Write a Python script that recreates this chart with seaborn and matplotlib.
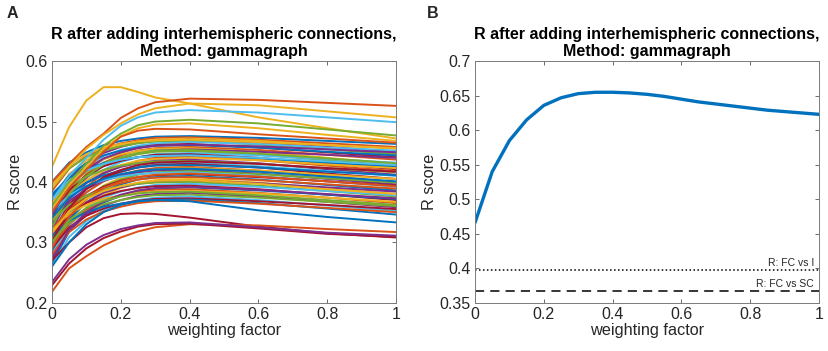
import numpy as np
import pandas as pd
import matplotlib
matplotlib.use("Agg")
import matplotlib.pyplot as plt
import seaborn as sns

# ---------------- data ----------------
W = [0, 0.05, 0.1, 0.15, 0.2, 0.25, 0.3, 0.4, 0.6, 0.8, 1.0]

# Panel A: subject curves (R score vs weighting factor)
bundle = [
    [0.400, 0.432, 0.449, 0.461, 0.468, 0.472, 0.475, 0.476, 0.473, 0.468, 0.463],
    [0.385, 0.422, 0.443, 0.456, 0.464, 0.469, 0.473, 0.474, 0.470, 0.464, 0.458],
    [0.370, 0.413, 0.436, 0.452, 0.461, 0.467, 0.470, 0.472, 0.468, 0.461, 0.455],
    [0.360, 0.406, 0.431, 0.448, 0.458, 0.465, 0.468, 0.470, 0.465, 0.458, 0.450],
    [0.390, 0.423, 0.441, 0.452, 0.459, 0.464, 0.467, 0.468, 0.462, 0.454, 0.446],
    [0.350, 0.399, 0.425, 0.443, 0.453, 0.460, 0.464, 0.466, 0.463, 0.457, 0.452],
    [0.340, 0.392, 0.420, 0.438, 0.449, 0.457, 0.461, 0.463, 0.457, 0.449, 0.441],
    [0.375, 0.411, 0.431, 0.444, 0.452, 0.457, 0.460, 0.461, 0.457, 0.450, 0.444],
    [0.330, 0.384, 0.413, 0.432, 0.444, 0.452, 0.456, 0.458, 0.453, 0.445, 0.437],
    [0.365, 0.403, 0.424, 0.438, 0.446, 0.451, 0.455, 0.456, 0.450, 0.440, 0.430],
    [0.320, 0.376, 0.407, 0.427, 0.439, 0.447, 0.452, 0.454, 0.450, 0.445, 0.440],
    [0.355, 0.395, 0.417, 0.432, 0.440, 0.446, 0.450, 0.451, 0.445, 0.436, 0.427],
    [0.310, 0.368, 0.400, 0.420, 0.433, 0.441, 0.446, 0.448, 0.444, 0.438, 0.432],
    [0.345, 0.387, 0.411, 0.426, 0.435, 0.441, 0.445, 0.446, 0.440, 0.431, 0.421],
    [0.380, 0.407, 0.422, 0.431, 0.437, 0.441, 0.443, 0.444, 0.439, 0.432, 0.425],
    [0.300, 0.360, 0.392, 0.414, 0.426, 0.435, 0.440, 0.442, 0.436, 0.427, 0.418],
    [0.335, 0.379, 0.403, 0.419, 0.428, 0.435, 0.438, 0.440, 0.436, 0.429, 0.423],
    [0.325, 0.372, 0.398, 0.415, 0.425, 0.431, 0.435, 0.437, 0.431, 0.421, 0.412],
    [0.360, 0.392, 0.409, 0.420, 0.427, 0.431, 0.434, 0.435, 0.430, 0.423, 0.416],
    [0.290, 0.350, 0.382, 0.404, 0.416, 0.425, 0.430, 0.432, 0.426, 0.418, 0.410],
    [0.315, 0.363, 0.390, 0.407, 0.417, 0.424, 0.428, 0.430, 0.424, 0.414, 0.405],
    [0.345, 0.380, 0.399, 0.411, 0.419, 0.424, 0.427, 0.428, 0.424, 0.417, 0.411],
    [0.305, 0.355, 0.383, 0.401, 0.412, 0.419, 0.423, 0.425, 0.419, 0.409, 0.400],
    [0.280, 0.340, 0.373, 0.394, 0.407, 0.416, 0.421, 0.423, 0.419, 0.412, 0.405],
    [0.330, 0.368, 0.389, 0.402, 0.410, 0.416, 0.419, 0.420, 0.414, 0.405, 0.396],
    [0.295, 0.347, 0.375, 0.393, 0.404, 0.412, 0.416, 0.418, 0.413, 0.406, 0.399],
    [0.350, 0.378, 0.393, 0.403, 0.409, 0.413, 0.415, 0.416, 0.410, 0.401, 0.392],
    [0.310, 0.353, 0.377, 0.392, 0.402, 0.408, 0.411, 0.413, 0.408, 0.401, 0.394],
    [0.285, 0.338, 0.366, 0.385, 0.396, 0.404, 0.408, 0.410, 0.404, 0.395, 0.386],
    [0.320, 0.357, 0.377, 0.390, 0.398, 0.404, 0.407, 0.408, 0.403, 0.396, 0.389],
    [0.270, 0.327, 0.358, 0.378, 0.390, 0.398, 0.403, 0.405, 0.399, 0.389, 0.380],
    [0.300, 0.343, 0.366, 0.382, 0.391, 0.397, 0.400, 0.402, 0.398, 0.391, 0.384],
    [0.335, 0.362, 0.377, 0.387, 0.393, 0.397, 0.399, 0.400, 0.394, 0.385, 0.376],
    [0.280, 0.329, 0.356, 0.374, 0.384, 0.391, 0.395, 0.397, 0.392, 0.385, 0.378],
    [0.310, 0.345, 0.365, 0.377, 0.385, 0.390, 0.393, 0.394, 0.388, 0.379, 0.370],
    [0.265, 0.318, 0.347, 0.366, 0.377, 0.385, 0.389, 0.391, 0.386, 0.379, 0.372],
    [0.290, 0.331, 0.354, 0.368, 0.377, 0.383, 0.387, 0.388, 0.382, 0.374, 0.365],
    [0.320, 0.347, 0.362, 0.372, 0.378, 0.382, 0.384, 0.385, 0.381, 0.374, 0.367],
    [0.275, 0.320, 0.345, 0.361, 0.370, 0.377, 0.380, 0.382, 0.376, 0.367, 0.358],
    [0.300, 0.333, 0.351, 0.363, 0.370, 0.375, 0.378, 0.379, 0.374, 0.367, 0.360],
    [0.260, 0.309, 0.335, 0.353, 0.363, 0.370, 0.374, 0.376, 0.370, 0.361, 0.352],
    [0.290, 0.325, 0.344, 0.356, 0.364, 0.369, 0.372, 0.373, 0.368, 0.362, 0.355],
    [0.310, 0.336, 0.350, 0.359, 0.364, 0.368, 0.370, 0.371, 0.365, 0.356, 0.346],
    [0.280, 0.317, 0.338, 0.351, 0.359, 0.365, 0.368, 0.369, 0.364, 0.357, 0.350],
    [0.395, 0.428, 0.446, 0.457, 0.463, 0.467, 0.469, 0.470, 0.466, 0.461, 0.456],
    [0.345, 0.394, 0.421, 0.439, 0.449, 0.456, 0.460, 0.462, 0.459, 0.454, 0.449],
    [0.325, 0.380, 0.410, 0.429, 0.441, 0.448, 0.452, 0.453, 0.447, 0.439, 0.431],
    [0.370, 0.402, 0.419, 0.430, 0.437, 0.441, 0.443, 0.444, 0.440, 0.434, 0.428],
    [0.300, 0.357, 0.388, 0.408, 0.420, 0.428, 0.432, 0.434, 0.430, 0.423, 0.417],
    [0.340, 0.374, 0.393, 0.405, 0.413, 0.418, 0.421, 0.422, 0.417, 0.409, 0.401],
    [0.290, 0.343, 0.371, 0.390, 0.401, 0.408, 0.412, 0.414, 0.409, 0.401, 0.393],
    [0.315, 0.352, 0.372, 0.385, 0.393, 0.399, 0.402, 0.403, 0.397, 0.388, 0.380],
    [0.270, 0.322, 0.350, 0.368, 0.379, 0.386, 0.390, 0.392, 0.387, 0.380, 0.373],
    [0.300, 0.337, 0.357, 0.369, 0.376, 0.381, 0.383, 0.384, 0.378, 0.370, 0.362],
]
# distinct subjects (outliers), with their colour index in the MATLAB order
outliers = [
    ([0.425, 0.491, 0.535, 0.557, 0.557, 0.549, 0.540, 0.530, 0.507, 0.489, 0.472], 2),
    ([0.400, 0.430, 0.458, 0.480, 0.506, 0.522, 0.532, 0.538, 0.536, 0.531, 0.526], 1),
    ([0.390, 0.425, 0.455, 0.478, 0.497, 0.512, 0.522, 0.530, 0.527, 0.517, 0.507], 2),
    ([0.370, 0.410, 0.440, 0.470, 0.493, 0.507, 0.515, 0.519, 0.515, 0.507, 0.499], 5),
    ([0.360, 0.400, 0.430, 0.460, 0.480, 0.494, 0.500, 0.503, 0.497, 0.487, 0.477], 4),
    ([0.355, 0.395, 0.425, 0.455, 0.476, 0.489, 0.495, 0.497, 0.489, 0.478, 0.468], 2),
    ([0.350, 0.390, 0.420, 0.450, 0.475, 0.485, 0.488, 0.487, 0.479, 0.472, 0.465], 1),
    ([0.270, 0.300, 0.325, 0.340, 0.347, 0.348, 0.347, 0.341, 0.326, 0.315, 0.308], 6),
    ([0.218, 0.257, 0.277, 0.295, 0.308, 0.318, 0.325, 0.330, 0.328, 0.322, 0.317], 1),
    ([0.229, 0.265, 0.290, 0.307, 0.318, 0.326, 0.330, 0.331, 0.323, 0.314, 0.309], 6),
    ([0.234, 0.272, 0.296, 0.312, 0.322, 0.328, 0.332, 0.333, 0.325, 0.316, 0.311], 3),
    ([0.260, 0.300, 0.330, 0.350, 0.362, 0.368, 0.370, 0.368, 0.353, 0.342, 0.333], 0),
]

# Panel B: group-level curve and reference values
WB = [0, 0.05, 0.1, 0.15, 0.2, 0.25, 0.3, 0.35, 0.4, 0.45, 0.5, 0.55, 0.6,
      0.65, 0.7, 0.75, 0.8, 0.85, 0.9, 0.95, 1.0]
RB = [0.466, 0.540, 0.585, 0.615, 0.636, 0.647, 0.653, 0.655, 0.655, 0.654,
      0.652, 0.649, 0.645, 0.641, 0.638, 0.635, 0.632, 0.629, 0.627, 0.625, 0.623]
R_FC_I = 0.3975
R_FC_SC = 0.3665

MATLAB = ["#0072BD", "#D95319", "#EDB120", "#7E2F8E", "#77AC30", "#4DBEEE", "#A2142F"]

# ---------------- build long table ----------------
rows = []
colors = []
k = 0
for i, vals in enumerate(bundle):
    for w, r in zip(W, vals):
        rows.append((k, w, r))
    colors.append(MATLAB[i % 7])
    k += 1
for vals, ci in outliers:
    for w, r in zip(W, vals):
        rows.append((k, w, r))
    colors.append(MATLAB[ci])
    k += 1
dfA = pd.DataFrame(rows, columns=["subject", "w", "R"])
dfB = pd.DataFrame({"w": WB, "R": RB})

# ---------------- style ----------------
sns.set_theme(style="white")
plt.rcParams["font.family"] = ["Liberation Sans", "DejaVu Sans"]
TXT = "#262626"

fig = plt.figure(figsize=(8.29, 3.51), dpi=100)
axA = fig.add_axes([0.0627, 0.1376, 0.415, 0.688])
axB = fig.add_axes([0.573, 0.1376, 0.415, 0.688])

sns.lineplot(data=dfA, x="w", y="R", hue="subject", palette=colors,
             legend=False, estimator=None, linewidth=1.4, ax=axA)
sns.lineplot(data=dfB, x="w", y="R", color="#0072BD", linewidth=2.4,
             estimator=None, ax=axB)
axB.axhline(R_FC_I, color="black", linestyle=(0, (1, 1.6)), linewidth=1.1)
axB.axhline(R_FC_SC, color="black", linestyle=(0, (6, 4)), linewidth=1.1)
axB.text(0.985, R_FC_I + 0.003, "R: FC vs I", ha="right", va="bottom",
         fontsize=7.5, color=TXT)
axB.text(0.985, R_FC_SC + 0.003, "R: FC vs SC", ha="right", va="bottom",
         fontsize=7.5, color=TXT)

for ax, ylim, yt in [
        (axA, (0.2, 0.6), [0.2, 0.3, 0.4, 0.5, 0.6]),
        (axB, (0.35, 0.7), [0.35, 0.4, 0.45, 0.5, 0.55, 0.6, 0.65, 0.7])]:
    ax.set_xlim(0, 1)
    ax.set_ylim(*ylim)
    ax.set_xticks([0, 0.2, 0.4, 0.6, 0.8, 1])
    ax.set_xticklabels(["0", "0.2", "0.4", "0.6", "0.8", "1"])
    ax.set_yticks(yt)
    ax.set_yticklabels([f"{v:g}" for v in yt])
    ax.tick_params(direction="in", length=3, width=0.6, top=True, right=True,
                   bottom=True, left=True, labelsize=11.5, colors="#555555",
                   labelcolor=TXT, pad=3)
    for s in ax.spines.values():
        s.set_color("#7a7a7a")
        s.set_linewidth(0.7)
    ax.set_xlabel("weighting factor", fontsize=11.7, color=TXT, labelpad=1)
    ax.set_ylabel("R score", fontsize=11.7, color=TXT, labelpad=2)
    ax.set_title("R after adding interhemispheric connections,\nMethod: gammagraph",
                 fontsize=11.5, fontweight="bold", color="black", pad=4,
                 linespacing=1.1)

fig.text(0.008, 0.982, "A", fontsize=11.5, fontweight="bold", va="top", ha="left")
fig.text(0.515, 0.982, "B", fontsize=11.5, fontweight="bold", va="top", ha="left")

fig.savefig("out.png", dpi=100, facecolor="white")
